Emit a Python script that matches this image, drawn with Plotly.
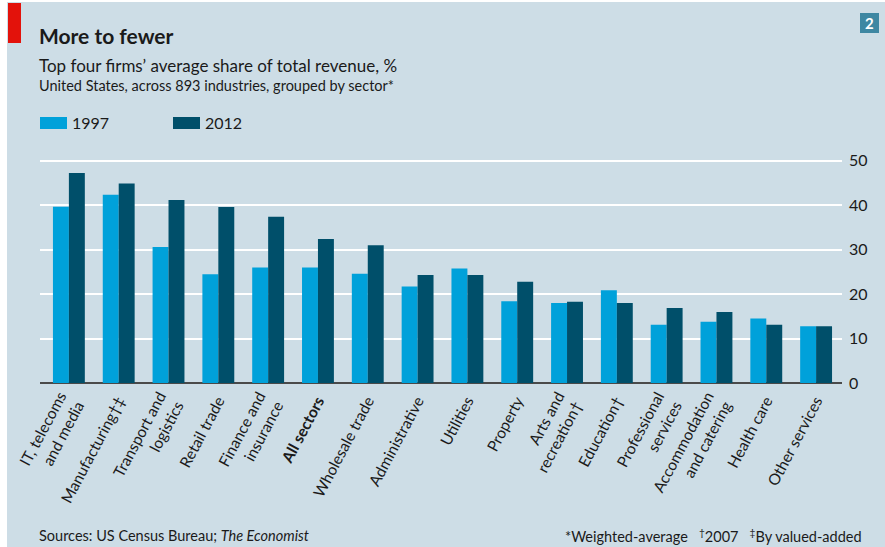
import plotly.graph_objects as go

# Sector labels (tick text) and their category keys
sectors = [
    "IT, telecoms and media", "Manufacturing", "Transport and logistics",
    "Retail trade", "Finance and insurance", "All sectors", "Wholesale trade",
    "Administrative", "Utilities", "Property", "Arts and recreation",
    "Education", "Professional services", "Accommodation and catering",
    "Health care", "Other services",
]
tick_labels = [
    "IT, telecoms<br>and media", "Manufacturing\u2020\u2021", "Transport and<br>logistics",
    "Retail trade", "Finance and<br>insurance", "<b>All sectors</b>", "Wholesale trade",
    "Administrative", "Utilities", "Property", "Arts and<br>recreation\u2020",
    "Education\u2020", "Professional<br>services", "Accommodation<br>and catering",
    "Health care", "Other services",
]

# Top four firms' average share of total revenue, %
share_1997 = [39.7, 42.4, 30.6, 24.5, 26.0, 26.0, 24.6, 21.7,
              25.8, 18.4, 18.0, 20.9, 13.1, 13.8, 14.5, 12.8]
share_2012 = [47.3, 44.9, 41.2, 39.6, 37.4, 32.4, 31.0, 24.3,
              24.3, 22.8, 18.3, 18.0, 16.9, 16.0, 13.1, 12.8]

y_ticks = [0, 10, 20, 30, 40, 50]

C1997 = "#00a1da"
C2012 = "#004f6a"
BG = "#cddde6"
FONT = "Lato, 'Open Sans', sans-serif"
TXT = "#1a1a1a"

W, H = 885, 547
ML, MR, MT, MB = 40, 43, 152, 164
PW, PH = W - ML - MR, H - MT - MB


def px(x):
    return (x - ML) / PW


def py(y):
    return (H - MB - y) / PH


fig = go.Figure()
fig.add_trace(go.Bar(x=sectors, y=share_1997, name="1997", marker_color=C1997,
                     marker_line_width=0, showlegend=False))
fig.add_trace(go.Bar(x=sectors, y=share_2012, name="2012", marker_color=C2012,
                     marker_line_width=0, showlegend=False))

shapes = [
    # background panel
    dict(type="rect", xref="paper", yref="paper", x0=px(7), x1=px(W), y0=py(H), y1=py(2),
         fillcolor=BG, line_width=0, layer="below"),
    # red tag
    dict(type="rect", xref="paper", yref="paper", x0=px(8), x1=px(21), y0=py(43), y1=py(3),
         fillcolor="#e3120b", line_width=0),
    # chart number box
    dict(type="rect", xref="paper", yref="paper", x0=px(860), x1=px(879), y0=py(33), y1=py(13),
         fillcolor="#3e87a2", line_width=0),
    # legend swatches
    dict(type="rect", xref="paper", yref="paper", x0=px(40), x1=px(67), y0=py(129), y1=py(117),
         fillcolor=C1997, line_width=0),
    dict(type="rect", xref="paper", yref="paper", x0=px(173), x1=px(200), y0=py(129), y1=py(117),
         fillcolor=C2012, line_width=0),
]

annotations = [
    dict(text="<b>More to fewer</b>", x=px(37), y=py(36), font=dict(size=21, color=TXT)),
    dict(text="Top four firms\u2019 average share of total revenue, %", x=px(37), y=py(66),
         font=dict(size=17, color=TXT)),
    dict(text="United States, across 893 industries, grouped by sector*", x=px(37), y=py(86),
         font=dict(size=14.5, color=TXT)),
    dict(text="1997", x=px(70), y=py(123), font=dict(size=16, color=TXT)),
    dict(text="2012", x=px(203), y=py(123), font=dict(size=16, color=TXT)),
    dict(text="<b>2</b>", x=px(869.5), y=py(23), xanchor="center",
         font=dict(size=15, color="white")),
    dict(text="Sources: US Census Bureau; <i>The Economist</i>", x=px(37), y=py(535),
         font=dict(size=14.5, color=TXT)),
    dict(text="*Weighted-average   <sup>\u2020</sup>2007   <sup>\u2021</sup>By valued-added",
         x=px(864), y=py(535), xanchor="right", font=dict(size=14.5, color=TXT)),
]
for a in annotations:
    a.setdefault("xanchor", "left")
    a.update(xref="paper", yref="paper", yanchor="middle", showarrow=False)

fig.update_layout(
    width=W, height=H,
    margin=dict(l=ML, r=MR, t=MT, b=MB, pad=0),
    paper_bgcolor="white",
    plot_bgcolor="rgba(0,0,0,0)",
    font=dict(family=FONT, color=TXT),
    barmode="group",
    bargap=0.36,
    bargroupgap=0,
    shapes=shapes,
    annotations=annotations,
    xaxis=dict(
        type="category",
        range=[-0.58, 15.52],
        tickmode="array", tickvals=sectors, ticktext=tick_labels,
        tickangle=-62,
        tickfont=dict(size=15.5, color=TXT),
        showgrid=False, ticks="", showline=False, zeroline=False,
        ticklabelstandoff=5,
        fixedrange=True,
    ),
    yaxis=dict(
        side="right",
        range=[0, 52],
        tickvals=y_ticks,
        tickfont=dict(size=16, color=TXT),
        showgrid=True, gridcolor="white", gridwidth=2,
        zeroline=True, zerolinecolor="#4a4a4a", zerolinewidth=1.5,
        ticks="", showline=False,
        ticklabelstandoff=6,
        fixedrange=True,
    ),
)

fig.write_html("out.html")
